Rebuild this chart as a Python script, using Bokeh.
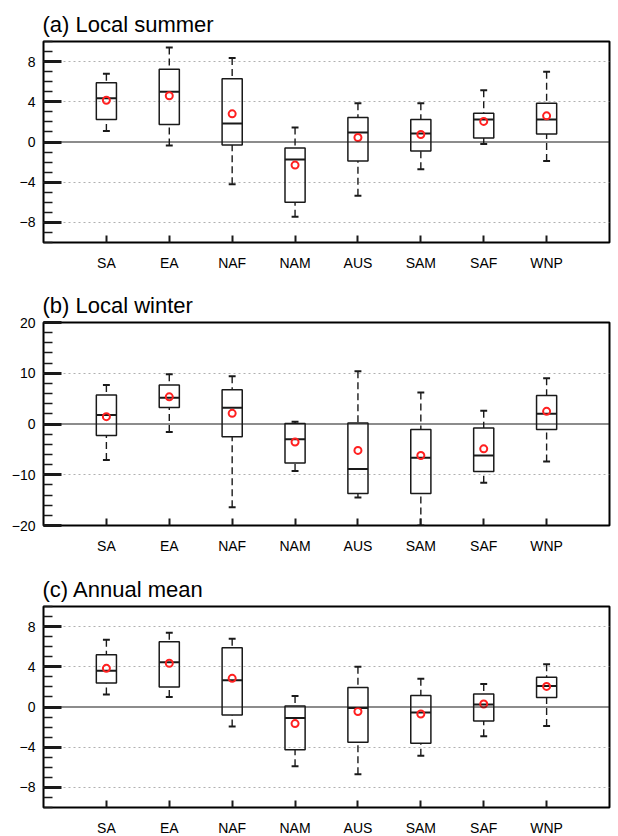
import numpy as np
from bokeh.plotting import figure
from bokeh.models import Range1d, FixedTicker, Span
from bokeh.layouts import column
from bokeh.embed import file_html
from bokeh.resources import INLINE

regions = ["SA", "EA", "NAF", "NAM", "AUS", "SAM", "SAF", "WNP"]

# (a) Local summer
sum_max = [6.8, 9.4, 8.35, 1.45, 3.85, 3.85, 5.15, 7.0]
sum_q3 = [5.9, 7.25, 6.3, -0.6, 2.45, 2.25, 2.85, 3.85]
sum_med = [4.35, 5.0, 1.85, -1.75, 0.95, 0.85, 2.25, 2.25]
sum_q1 = [2.25, 1.75, -0.3, -6.0, -1.9, -0.9, 0.4, 0.8]
sum_min = [1.1, -0.35, -4.2, -7.45, -5.35, -2.7, -0.2, -1.9]
sum_mean = [4.15, 4.6, 2.8, -2.3, 0.45, 0.75, 2.05, 2.6]

# (b) Local winter
win_max = [7.7, 9.8, 9.4, 0.45, 10.4, 6.2, 2.6, 9.0]
win_q3 = [5.7, 7.7, 6.75, 0.1, 0.2, -1.1, -0.8, 5.6]
win_med = [1.75, 5.15, 3.2, -3.0, -8.85, -6.65, -6.2, 2.0]
win_q1 = [-2.25, 3.25, -2.5, -7.7, -13.7, -13.7, -9.35, -1.1]
win_min = [-7.1, -1.6, -16.4, -9.25, -14.5, -20.0, -11.6, -7.4]
win_mean = [1.45, 5.35, 2.1, -3.55, -5.2, -6.2, -4.9, 2.5]

# (c) Annual mean
ann_max = [6.7, 7.4, 6.8, 1.1, 4.0, 2.8, 2.3, 4.25]
ann_q3 = [5.2, 6.5, 5.9, 0.1, 1.95, 1.15, 1.3, 2.95]
ann_med = [3.6, 4.45, 2.65, -1.1, -0.1, -0.55, 0.25, 2.1]
ann_q1 = [2.4, 2.0, -0.8, -4.25, -3.5, -3.6, -1.4, 0.95]
ann_min = [1.25, 1.0, -1.95, -5.9, -6.7, -4.85, -2.9, -1.9]
ann_mean = [3.85, 4.35, 2.85, -1.65, -0.45, -0.7, 0.3, 2.05]

FONT = "Liberation Sans"
BOX_W = 0.32
CAP_HW = 0.055
INK = "#1a1a1a"


def make_panel(title, vmax, q3, med, q1, vmin, mean, ylim, majors, minors, grid,
               top_b, frame_h, bot_b):
    x = np.arange(1, len(regions) + 1, dtype=float)
    vmax, q3, med, q1, vmin, mean = map(np.asarray, (vmax, q3, med, q1, vmin, mean))
    p = figure(frame_width=566, frame_height=frame_h,
               min_border_left=43, min_border_right=3,
               min_border_top=top_b, min_border_bottom=bot_b,
               x_range=Range1d(0, len(regions) + 1), y_range=Range1d(*ylim),
               output_backend="svg", toolbar_location=None,
               background_fill_color="white", border_fill_color="white")
    p.title.text = title
    p.title.text_font = FONT
    p.title.text_font_size = "22px"
    p.title.text_font_style = "normal"
    p.title.text_color = "black"
    p.title.standoff = 9
    p.title.offset = -1

    p.outline_line_color = "black"
    p.outline_line_width = 2
    p.outline_line_alpha = 1

    # axes
    p.xaxis.ticker = FixedTicker(ticks=list(x))
    p.xaxis.major_label_overrides = {float(v): r for v, r in zip(x, regions)}
    p.xaxis.axis_line_color = None
    p.xaxis.major_tick_in = 7
    p.xaxis.major_tick_out = 0
    p.xaxis.major_tick_line_width = 2
    p.xaxis.major_tick_line_color = INK
    p.xaxis.minor_tick_line_color = None
    p.xaxis.major_label_text_font = FONT
    p.xaxis.major_label_text_font_size = "14px"
    p.xaxis.major_label_text_color = "black"
    p.xaxis.major_label_standoff = 12

    p.yaxis.ticker = FixedTicker(ticks=majors, minor_ticks=minors)
    p.yaxis.axis_line_color = None
    p.yaxis.major_tick_in = 18
    p.yaxis.major_tick_out = 0
    p.yaxis.major_tick_line_width = 3
    p.yaxis.major_tick_line_color = INK
    p.yaxis.minor_tick_in = 9
    p.yaxis.minor_tick_out = 0
    p.yaxis.minor_tick_line_width = 1.3
    p.yaxis.minor_tick_line_color = INK
    p.yaxis.major_label_text_font = FONT
    p.yaxis.major_label_text_font_size = "14px"
    p.yaxis.major_label_text_color = "black"
    p.yaxis.major_label_standoff = 8

    p.xgrid.grid_line_color = None
    p.ygrid.ticker = FixedTicker(ticks=grid)
    p.ygrid.grid_line_color = "#b0b0b0"
    p.ygrid.grid_line_dash = "2 3"
    p.ygrid.grid_line_width = 1

    p.add_layout(Span(location=0, dimension="width", line_color=INK, line_width=1.2))

    # whiskers (dashed) from extremes to box
    p.segment(x0=x, y0=vmax, x1=x, y1=q3, line_color=INK, line_width=1.4,
              line_dash="7 4")
    p.segment(x0=x, y0=vmin, x1=x, y1=q1, line_color=INK, line_width=1.4,
              line_dash="7 4")
    # caps
    p.segment(x0=x - CAP_HW, y0=vmax, x1=x + CAP_HW, y1=vmax, line_color=INK, line_width=2)
    p.segment(x0=x - CAP_HW, y0=vmin, x1=x + CAP_HW, y1=vmin, line_color=INK, line_width=2)
    # boxes
    p.vbar(x=x, width=BOX_W, top=q3, bottom=q1, fill_color=None,
           line_color=INK, line_width=1.5)
    # medians
    p.segment(x0=x - BOX_W / 2, y0=med, x1=x + BOX_W / 2, y1=med,
              line_color=INK, line_width=2)
    # means
    p.scatter(x=x, y=mean, marker="circle", size=7, fill_color=None,
              line_color="#ff2020", line_width=2)
    return p


pa = make_panel("(a) Local summer", sum_max, sum_q3, sum_med, sum_q1, sum_min, sum_mean,
                (-10, 10), [-8, -4, 0, 4, 8], list(range(-10, 11)), [-8, -4, 4, 8],
                41, 201, 39)
pb = make_panel("(b) Local winter", win_max, win_q3, win_med, win_q1, win_min, win_mean,
                (-20, 20), [-20, -10, 0, 10, 20], list(range(-20, 21, 2)), [-10, 10],
                41, 203, 39)
pc = make_panel("(c) Annual mean", ann_max, ann_q3, ann_med, ann_q1, ann_min, ann_mean,
                (-10, 10), [-8, -4, 0, 4, 8], list(range(-10, 11)), [-8, -4, 4, 8],
                42, 201, 24)

layout = column(pa, pb, pc, spacing=0)
open("out.html", "w").write(file_html(layout, INLINE))
